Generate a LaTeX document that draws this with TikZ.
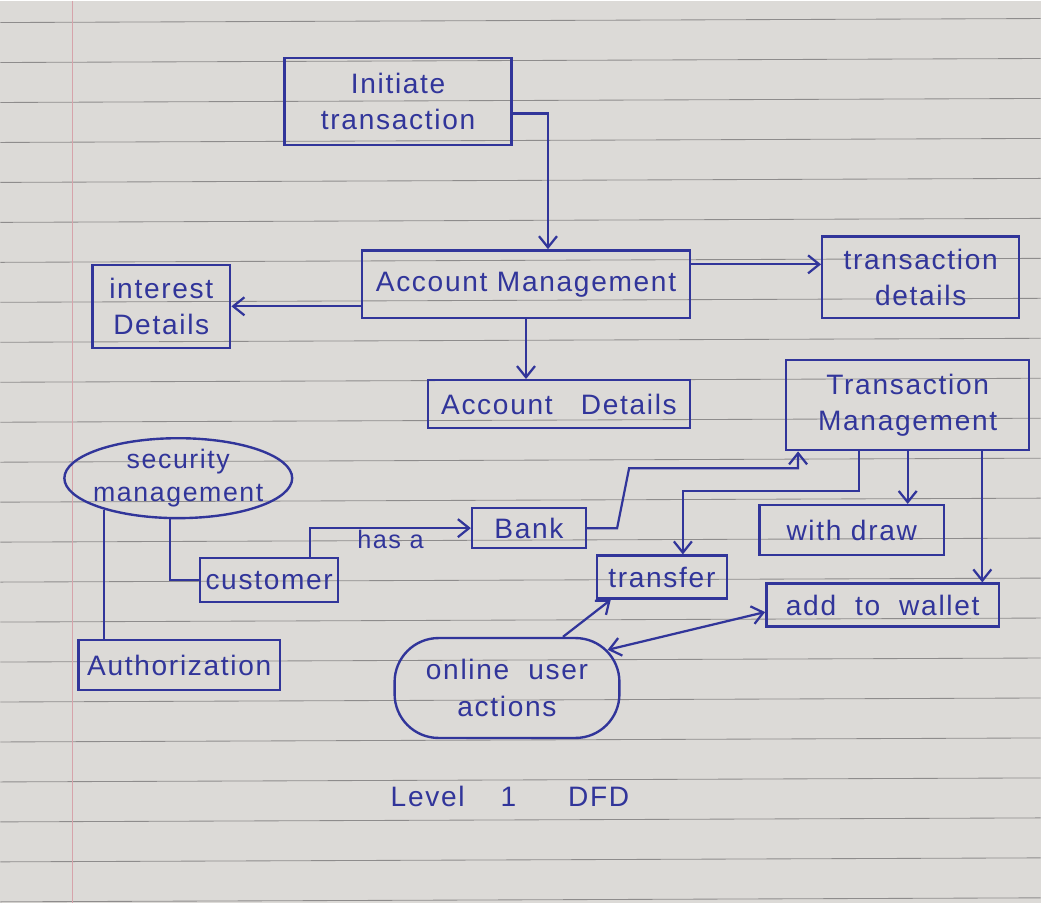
\documentclass[tikz,border=0pt]{standalone}
\usepackage{fontspec}
\setmainfont{Liberation Sans}[LetterSpace=6]
\usetikzlibrary{arrows.meta,calc,shapes.geometric}
\definecolor{ink}{HTML}{31359A}
\definecolor{paperbg}{HTML}{DCDAD7}
\definecolor{ruleline}{HTML}{8E8C8C}
\definecolor{marginline}{HTML}{D6A3AA}

\begin{document}
\begin{tikzpicture}[x=0.25mm,y=-0.25mm]
    \tikzstyle{box} = [rectangle, draw=ink, line width=1.7pt, text=ink, align=center, inner sep=2pt, font=\fontsize{20}{26}\selectfont]
    \tikzstyle{txt} = [text=ink, align=center, inner sep=1pt, font=\fontsize{20}{26}\selectfont]
    \tikzstyle{flow} = [draw=ink, line width=1.6pt]
    \tikzstyle{arr} = [flow, -{Straight Barb[length=2.8mm,width=4.5mm]}]

    % notebook page
    \fill [paperbg] (0,0) rectangle (1041,903);
    \foreach \y in {22,62,...,902}
        \draw [ruleline, line width=0.6pt] (0,\y) -- (1041,\y-4);
    \draw [marginline, line width=0.8pt] (72,0) -- (72,903);
    \useasboundingbox (0,0) rectangle (1041,903);

    \node [box, minimum width=56.75mm, minimum height=21.75mm] (init) at (398,101) {Initiate\\transaction};
    \node [box, minimum width=82mm, minimum height=17mm] (acct) at (526,284) {Account Management};
    \node [box, minimum width=34.5mm, minimum height=20.75mm] (interest) at (161,306) {interest\\Details};
    \node [box, minimum width=49.25mm, minimum height=20.5mm] (tdet) at (921,277) {transaction\\details};
    \node [box, minimum width=65.5mm, minimum height=12mm] (acctdet) at (559,404) {Account\quad Details};
    \node [box, minimum width=60.75mm, minimum height=22.5mm] (tmgmt) at (908,405) {Transaction\\Management};

    \node [ellipse, draw=ink, line width=1.7pt, minimum width=57mm, minimum height=20mm] (secu) at (178,478) {};
    \node [txt, font=\fontsize{19}{23}\selectfont] (secutxt) at (secu) {security\\management};

    \node [box, minimum width=34.5mm, minimum height=11mm] (cust) at (269,580) {customer};
    \node [box, minimum width=50.5mm, minimum height=12.5mm] (auth) at (179,665) {Authorization};
    \node [box, minimum width=28.5mm, minimum height=10mm] (bank) at (529,528) {Bank};
    \node [box, minimum width=46.25mm, minimum height=12.5mm] (withdraw) at (852,530) {with draw};
    \node [box, minimum width=32.5mm, minimum height=10.75mm] (transfer) at (662,577) {transfer};
    \node [box, minimum width=58.25mm, minimum height=10.75mm] (wallet) at (883,605) {add~ to~ wallet};

    \node [rectangle, rounded corners=11mm, draw=ink, line width=1.7pt, minimum width=56.25mm, minimum height=25mm] (online) at (507,688) {};
    \node [txt] (onlinetxt) at (online) {online~ user\\actions};

    \node [txt] (caption) at (510,797) {Level\hspace{9mm}1\hspace{13mm}DFD};

    % connectors
    \draw [arr] ($(init.east)+(0,12)$) -| ($(acct.north)+(22,0)$);
    \draw [arr] (acct.west |- interest.east) -- (interest.east);
    \draw [arr] ($(acct.east)+(0,-20)$) -- ($(tdet.west)+(0,-13)$);
    \draw [arr] (acct.south) -- (acct.south |- acctdet.north);

    \draw [flow] (secu.203) -- (secu.203 |- auth.north);
    \draw [flow] ($(secu.south)+(-8,0)$) |- (cust.west);
    \draw [arr] ($(cust.north)+(41,0)$) |- node (hasa) [txt, pos=0.75, below, font=\fontsize{18}{22}\selectfont] {has a} (bank.west);
    \draw [arr] (bank.east) -- ++(30,0) -- ++(12,-60) -| ($(tmgmt.south west)+(13,0)$);

    \draw [arr] ($(tmgmt.south)+(-49,0)$) -- ++(0,40) -| ($(transfer.north)+(21,0)$);
    \draw [arr] (tmgmt.south) -- (tmgmt.south |- withdraw.north);
    \coordinate (tw) at ($(tmgmt.south east)+(-48,0)$);
    \draw [arr] (tw) -- (tw |- wallet.north);

    \draw [arr] ($(online.north)+(56,0)$) -- ($(transfer.south west)+(15,0)$);
    \draw [flow, {Straight Barb[length=2.8mm,width=4.5mm]}-{Straight Barb[length=2.8mm,width=4.5mm]}] ($(online.north east)+(-13,13)$) -- ($(wallet.west)+(0,7)$);
\end{tikzpicture}
\end{document}
